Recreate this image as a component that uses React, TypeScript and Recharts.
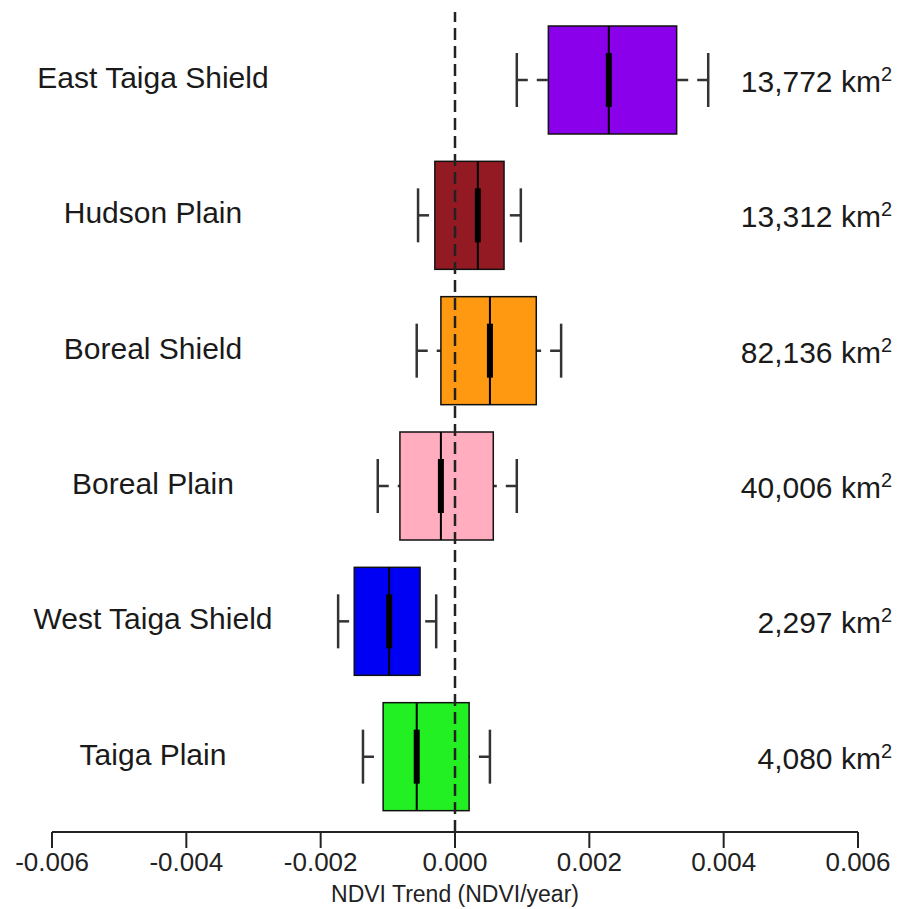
import { ComposedChart, Bar, XAxis, YAxis, ReferenceLine } from "recharts";

const regions = [
  "East Taiga Shield",
  "Hudson Plain",
  "Boreal Shield",
  "Boreal Plain",
  "West Taiga Shield",
  "Taiga Plain",
];
const areas = ["13,772", "13,312", "82,136", "40,006", "2,297", "4,080"];
const whiskerLow = [0.00092, -0.00055, -0.00057, -0.00115, -0.00174, -0.00137];
const quartile1 = [0.00139, -0.0003, -0.00021, -0.00082, -0.0015, -0.00107];
const medians = [0.00229, 0.00034, 0.00052, -0.00021, -0.00098, -0.00057];
const quartile3 = [0.0033, 0.00073, 0.00121, 0.00057, -0.00052, 0.00021];
const whiskerHigh = [0.00377, 0.00098, 0.00158, 0.00092, -0.00028, 0.00052];
const fills = ["#8a00ea", "#931a22", "#ff9912", "#ffadbf", "#0000f5", "#22f022"];
const xTicks = [-0.006, -0.004, -0.002, 0, 0.002, 0.004, 0.006];

const data = regions.map((name, i) => ({
  name,
  area: areas[i],
  box: [quartile1[i], quartile3[i]],
  low: whiskerLow[i],
  median: medians[i],
  high: whiskerHigh[i],
  fill: fills[i],
}));

const FONT = '"Liberation Sans", Arial, sans-serif';

// draws one whole box plot row from the bar rectangle (q1..q3)
function BoxPlot(props: any) {
  const { x, y, width, height, payload, background } = props;
  const [a, b] = payload.box;
  const perUnit = width / (b - a);
  const toPx = (v: number) => x + (v - a) * perUnit;
  const cy = y + height / 2;
  const capHalf = height / 4;
  const lowX = toPx(payload.low);
  const highX = toPx(payload.high);
  const medX = toPx(payload.median);
  const bgX = background ? background.x : 52;
  const bgW = background ? background.width : 806;

  return (
    <g>
      <line x1={lowX} x2={x} y1={cy} y2={cy} stroke="#333" strokeWidth={2.5} strokeDasharray="11 9" />
      <line x1={highX} x2={x + width} y1={cy} y2={cy} stroke="#333" strokeWidth={2.5} strokeDasharray="11 9" />
      <line x1={lowX} x2={lowX} y1={cy - capHalf} y2={cy + capHalf} stroke="#333" strokeWidth={2.5} />
      <line x1={highX} x2={highX} y1={cy - capHalf} y2={cy + capHalf} stroke="#333" strokeWidth={2.5} />
      <rect x={x} y={y} width={width} height={height} fill={payload.fill} stroke="#111" strokeWidth={1.5} />
      <line x1={medX} x2={medX} y1={y} y2={y + height} stroke="#000" strokeWidth={2} />
      <rect x={medX - 3} y={cy - capHalf} width={6} height={capHalf * 2} fill="#000" />
      <text x={bgX + 101} y={cy + 8} textAnchor="middle" fontSize={30} fontFamily={FONT} fill="#1a1a1a">
        {payload.name}
      </text>
      <text x={bgX + bgW + 34} y={cy + 12} textAnchor="end" fontSize={30} fontFamily={FONT} fill="#1a1a1a">
        <tspan>{payload.area} km</tspan>
        <tspan dy={-11} fontSize={20}>2</tspan>
      </text>
    </g>
  );
}

export default function App() {
  return (
    <div style={{ position: "absolute", left: 0, top: 0, background: "#fff" }}>
      <ComposedChart
        width={903}
        height={909}
        data={data}
        layout="vertical"
        margin={{ top: 12, right: 45, left: 52, bottom: 7 }}
      >
        <XAxis
          type="number"
          domain={[-0.006, 0.006]}
          ticks={xTicks}
          interval={0}
          tickFormatter={(v: number) => v.toFixed(3)}
          tickSize={16}
          tickMargin={5}
          height={70}
          axisLine={{ stroke: "#222", strokeWidth: 2 }}
          tickLine={{ stroke: "#222", strokeWidth: 2 }}
          tick={{ fontSize: 26, fill: "#222", fontFamily: FONT }}
          label={{
            value: "NDVI Trend (NDVI/year)",
            position: "insideBottom",
            offset: 0,
            fontSize: 23,
            fill: "#222",
            fontFamily: FONT,
          }}
        />
        <YAxis type="category" dataKey="name" hide padding={{ top: 0, bottom: 8 }} />
        <Bar dataKey="box" barSize={108} shape={BoxPlot} isAnimationActive={false} />
        <ReferenceLine x={0} stroke="#222" strokeWidth={2.5} strokeDasharray="12 6" zIndex={1000} />
      </ComposedChart>
    </div>
  );
}
